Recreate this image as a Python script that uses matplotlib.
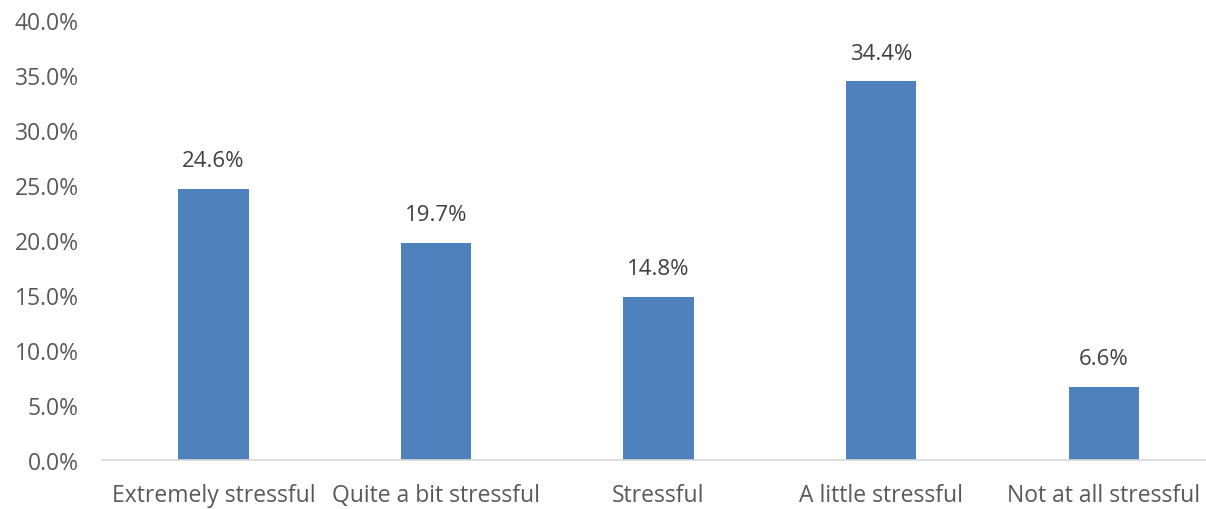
import matplotlib.pyplot as plt
from matplotlib.ticker import PercentFormatter

categories = ["Extremely stressful", "Quite a bit stressful", "Stressful",
              "A little stressful", "Not at all stressful"]
values = [24.6, 19.7, 14.8, 34.4, 6.6]

plt.rcParams['font.family'] = ['Open Sans', 'DejaVu Sans']
text_color = "#595959"

fig = plt.figure(figsize=(12.06, 5.10), dpi=100)
# plot area runs a little past the right edge, as in the cropped original
ax = fig.add_axes([0.0848, 0.0967, 0.9225, 0.8627])

x = range(len(categories))
bars = ax.bar(x, values, width=0.315, color="#4F81BD")
for b, v in zip(bars, values):
    ax.text(b.get_x() + b.get_width() / 2, v + 1.6, f"{v:.1f}%",
            ha="center", va="bottom", fontsize=16, color="#404040")

ax.set_xlim(-0.5, len(categories) - 0.5)
ax.set_ylim(0, 40)
ax.set_yticks(range(0, 41, 5))
ax.yaxis.set_major_formatter(PercentFormatter(decimals=1))
ax.set_xticks(list(x))
ax.set_xticklabels(categories)
ax.tick_params(axis="both", length=0, labelsize=16.5, colors=text_color)
ax.tick_params(axis="x", pad=17)
ax.tick_params(axis="y", pad=17)

for s in ["top", "right", "left"]:
    ax.spines[s].set_visible(False)
ax.spines["bottom"].set_color("#D9D9D9")
ax.spines["bottom"].set_linewidth(1.2)

fig.savefig("out.png", dpi=100)
